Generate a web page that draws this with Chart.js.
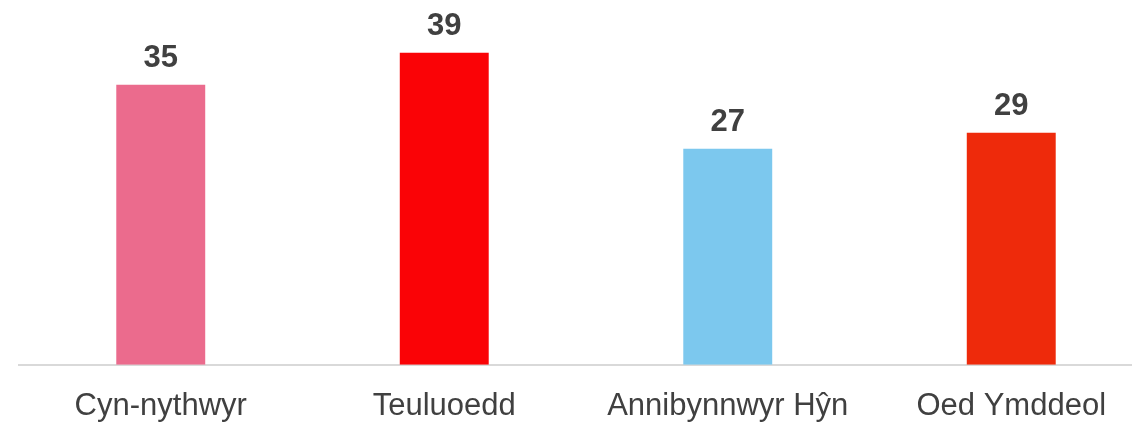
<!DOCTYPE html>
<html lang="cy">
<head>
    <meta charset="UTF-8">
    <title>Siart</title>
    <script src="https://cdn.jsdelivr.net/npm/chart.js"></script>
    <style>
        html, body { margin: 0; padding: 0; background: #fff; overflow: hidden; }
        /* the original plot runs a little past the right edge of the picture */
        #wrap { width: 1153px; height: 422px; }
    </style>
</head>
<body>
<div id="wrap"><canvas id="myChart"></canvas></div>
<script>
// categories and values
const labels = ['Cyn-nythwyr', 'Teuluoedd', 'Annibynnwyr Hŷn', 'Oed Ymddeol'];
const values = [35, 39, 27, 29];
const colors = ['#EB6B8D', '#FA0306', '#7CC8EE', '#EE2A0B'];

// draws the number above every bar
const valueLabels = {
    id: 'valueLabels',
    afterDatasetsDraw(chart) {
        const ctx = chart.ctx;
        const meta = chart.getDatasetMeta(0);
        ctx.save();
        ctx.font = 'bold 31px "Liberation Sans", Arial, sans-serif';
        ctx.fillStyle = '#404040';
        ctx.textAlign = 'center';
        ctx.textBaseline = 'alphabetic';
        meta.data.forEach((bar, i) => {
            ctx.fillText(values[i], bar.x, bar.y - 18);
        });
        ctx.restore();
    }
};

const ctx = document.getElementById('myChart').getContext('2d');
const myChart = new Chart(ctx, {
    type: 'bar',
    data: {
        labels: labels,
        datasets: [{
            data: values,
            backgroundColor: colors,
            borderWidth: 0,
            barPercentage: 0.3137,
            categoryPercentage: 1
        }]
    },
    options: {
        responsive: true,
        maintainAspectRatio: false,
        animation: false,
        layout: { padding: { left: 19, right: 0, top: 0, bottom: -18 } },
        plugins: {
            legend: { display: false },
            tooltip: { enabled: false }
        },
        scales: {
            x: {
                grid: { display: false },
                border: { display: true, color: '#D9D9D9', width: 2 },
                ticks: {
                    color: '#404040',
                    padding: 15,
                    maxRotation: 0,
                    autoSkip: false,
                    font: { family: '"Liberation Sans", Arial, sans-serif', size: 31 }
                }
            },
            y: {
                display: false,
                min: 0,
                max: 45.6
            }
        }
    },
    plugins: [valueLabels]
});
</script>
</body>
</html>
